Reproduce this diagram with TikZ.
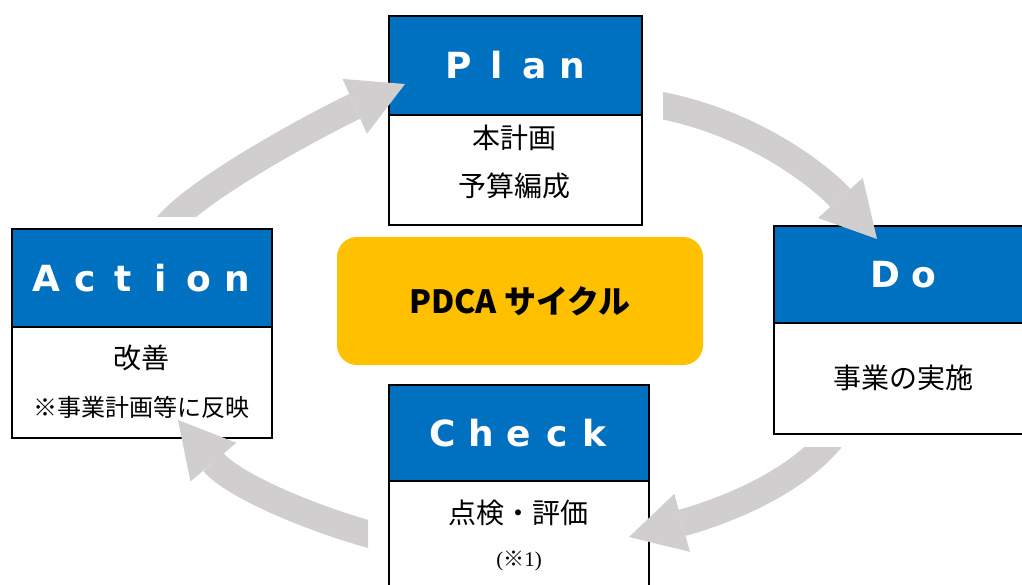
\documentclass[tikz,border=0pt]{standalone}
\usepackage{fontspec}
\setmainfont{Noto Sans CJK JP}
\newfontfamily\serifm{Liberation Serif}
\newfontfamily\hdrfont{DejaVu Sans}
\usetikzlibrary{arrows.meta}
\definecolor{hdrblue}{HTML}{0070C0}
\definecolor{gold}{HTML}{FFC000}
\definecolor{arrgrey}{HTML}{D0CECE}
\newcommand\cl[1]{\makebox[38pt]{#1}}
\begin{document}
\begin{tikzpicture}[x=1pt,y=-1pt,
  hdr/.style={draw=black, line width=1.8pt, fill=hdrblue, anchor=north west, inner sep=0pt,
    text=white, font=\hdrfont\bfseries\fontsize{36}{36}\selectfont},
  bodybox/.style={draw=black, line width=1.8pt, fill=white, anchor=north west, inner sep=0pt},
  jtxt/.style={font=\fontsize{28}{28}\selectfont, inner sep=0pt},
  jsmall/.style={font=\fontsize{24}{24}\selectfont, inner sep=0pt},
  cyc/.style={draw=arrgrey, line width=27pt,
    -{Triangle[width=60pt,length=55pt,line width=0pt]}}
]
\useasboundingbox[fill=white] (0,0) rectangle (1022,585);

% Plan
\node[hdr, minimum width=253pt, minimum height=99pt] (planh) at (388,15) {\cl{P}\cl{l}\cl{a}\cl{n}};
\node[bodybox, minimum width=253pt, minimum height=110pt] (planb) at (388,114) {};
\node[jtxt] (plan1) at (514.5,138) {本計画};
\node[jtxt] (plan2) at (514.5,186) {予算編成};

% Do
\node[hdr, minimum width=261pt, minimum height=97pt] (doh) at (773,225) {\cl{D}\cl{o}};
\node[bodybox, minimum width=261pt, minimum height=111pt] (dob) at (773,322) {};
\node[jtxt] (do1) at (903.5,378) {事業の実施};

% Check
\node[hdr, minimum width=260pt, minimum height=96pt] (checkh) at (388,384) {\cl{C}\cl{h}\cl{e}\cl{c}\cl{k}};
\node[bodybox, minimum width=260pt, minimum height=130pt] (checkb) at (388,480) {};
\node[jtxt] (check1) at (518,513) {点検・評価};
\node[inner sep=0pt, font=\fontsize{21}{21}\selectfont] (check2) at (519,561) {{\serifm (}※{\serifm 1)}};

% Action
\node[hdr, minimum width=260pt, minimum height=98pt] (acth) at (11,228) {\cl{A}\cl{c}\cl{t}\cl{i}\cl{o}\cl{n}};
\node[bodybox, minimum width=260pt, minimum height=111pt] (actb) at (11,326) {};
\node[jtxt] (act1) at (141,358) {改善};
\node[jsmall] (act2) at (141,407) {※事業計画等に反映};

% centre
\node[fill=gold, rounded corners=20pt, minimum width=366pt, minimum height=128pt,
  font=\bfseries\fontsize{32}{32}\selectfont] (pdca) at (520,301) {PDCA サイクル};

% cycle arrows
\coordinate (a1s) at (167,226);
\coordinate (a1t) at (405,84);
\begin{scope}
\clip (0,0) rectangle (1022,217);
\draw[cyc] (a1s) .. controls (202,184) and (336.5,114.5) .. (a1t);
\end{scope}

\coordinate (a2s) at (653,103.8);
\coordinate (a2t) at (877,239);
\begin{scope}
\clip (663,0) rectangle (1022,585);
\draw[cyc] (a2s) .. controls (759,122.6) and (827,183) .. (a2t);
\end{scope}

\coordinate (a3s) at (831,439);
\coordinate (a3t) at (629,537);
\begin{scope}
\clip (0,447) rectangle (1022,585);
\draw[cyc] (a3s) .. controls (783,496.5) and (687,521.5) .. (a3t);
\end{scope}

\coordinate (a4s) at (377.7,536.6);
\coordinate (a4t) at (178,420);
\begin{scope}
\clip (0,0) rectangle (368,585);
\draw[cyc] (a4s) .. controls (310,518.5) and (232.7,485) .. (a4t);
\end{scope}
\end{tikzpicture}
\end{document}
